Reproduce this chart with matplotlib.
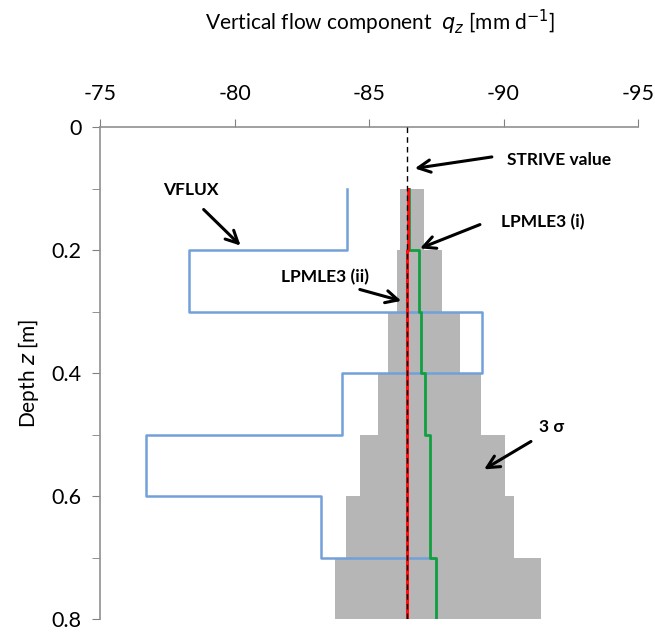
import matplotlib
matplotlib.use("Agg")
import matplotlib.pyplot as plt
import numpy as np

plt.rcParams["font.family"] = ["Lato", "DejaVu Sans"]

# layer boundaries (depth, m)
depth_edges = [0.1, 0.2, 0.3, 0.4, 0.5, 0.6, 0.7, 0.8]

# vertical flow per layer [mm/d]
vflux = [-84.2, -78.3, -89.2, -84.0, -76.7, -83.2, -87.5]
lpmle3_i = [-86.5, -86.85, -86.95, -87.1, -87.25, -87.25, -87.5]
lpmle3_ii = [-86.45, -86.42, -86.42, -86.42, -86.4, -86.4, -86.42]
sigma3_low = [-86.15, -86.05, -85.7, -85.35, -84.65, -84.15, -83.75]
sigma3_high = [-87.05, -87.7, -88.4, -89.15, -90.05, -90.4, -91.4]
strive_value = -86.4

x_ticks = [-75, -80, -85, -90, -95]
y_ticks = [0, 0.2, 0.4, 0.6, 0.8]


def steps(vals, edges):
    xs, ys = [], []
    for i, v in enumerate(vals):
        xs += [v, v]
        ys += [edges[i], edges[i + 1]]
    return np.array(xs), np.array(ys)


fig = plt.figure(figsize=(6.55, 6.32), dpi=100)
ax = fig.add_axes([100 / 655, 1 - 619 / 632, 538 / 655, 492 / 632])

# 3 sigma band
lx, ly = steps(sigma3_low, depth_edges)
hx, hy = steps(sigma3_high, depth_edges)
ax.fill_betweenx(ly, lx, hx, color="#b6b6b6", lw=0, zorder=1)

bx, by = steps(vflux, depth_edges)
ax.plot(bx, by, color="#72a0d8", lw=1.8, zorder=2)

gx, gy = steps(lpmle3_i, depth_edges)
ax.plot(gx, gy, color="#10a040", lw=2, zorder=3)

rx, ry = steps(lpmle3_ii, depth_edges)
ax.plot(rx, ry, color="#ff1010", lw=2.2, zorder=4)

ax.plot([strive_value, strive_value], [0, 0.8], color="black", lw=1,
        ls=(0, (4, 3)), zorder=5)

ax.set_xlim(-75, -95)
ax.set_ylim(0.8, 0)
ax.xaxis.tick_top()
ax.set_xticks(x_ticks, [str(t) for t in x_ticks])
ax.set_yticks(y_ticks, ["0", "0.2", "0.4", "0.6", "0.8"])
ax.set_yticks(np.arange(0.1, 0.8, 0.2), minor=True)
ax.tick_params(axis="both", which="both", direction="out", length=5.5,
               color="#808080", labelsize=15.5)
ax.tick_params(axis="x", pad=11)
ax.tick_params(axis="y", which="both", pad=8)
for s in ["right", "bottom"]:
    ax.spines[s].set_visible(False)
for s in ["left", "top"]:
    ax.spines[s].set_color("#909090")
    ax.spines[s].set_linewidth(1.2)

ax.set_ylabel("Depth $z$ [m]", fontsize=15, labelpad=7)
fig.text(380 / 655, 1 - 22 / 632,
         "Vertical flow component  $q_z$ [mm d$^{-1}$]",
         ha="center", va="center", fontsize=15)

arrow = dict(arrowstyle="->", lw=2.2, color="black", mutation_scale=22)
labels = [
    ("STRIVE value", (-92.05, 0.053), (-89.67, 0.048), (-86.6, 0.068)),
    ("LPMLE3 (i)", (-91.45, 0.155), (-89.22, 0.157), (-86.8, 0.199)),
    ("LPMLE3 (ii)", (-83.37, 0.244), (-84.56, 0.263), (-86.3, 0.284)),
    ("VFLUX", (-78.37, 0.102), (-78.78, 0.131), (-80.3, 0.196)),
    ("3 σ", (-91.78, 0.488), (-91.11, 0.509), (-89.19, 0.559)),
]
for txt, pos, tail, tip in labels:
    ax.text(pos[0], pos[1], txt, ha="center", va="center", fontsize=12.5,
            fontweight="bold", zorder=6)
    ax.annotate("", xy=tip, xytext=tail, arrowprops=arrow, zorder=6)

fig.savefig("out.png", dpi=100)
